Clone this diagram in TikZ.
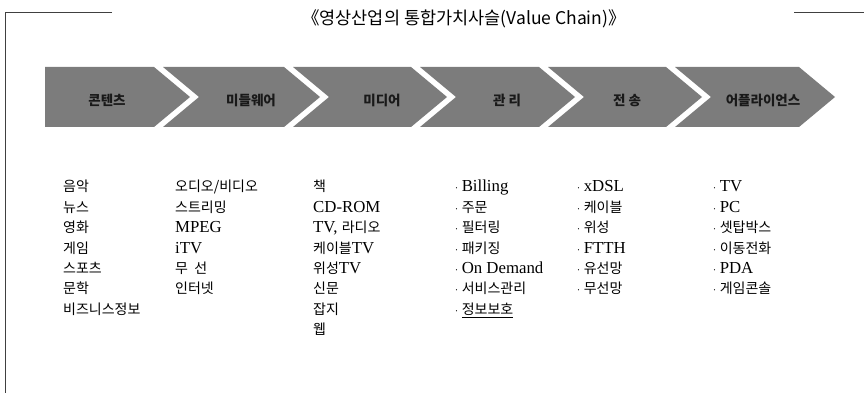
\documentclass[tikz,border=0pt]{standalone}
\usepackage{fontspec}
\setmainfont{Liberation Serif}[Scale=1.2]
\newfontfamily\kr{Noto Sans CJK KR}
\newcommand\K[1]{{\kr #1}}
\newcommand\dt{{\kr\fontsize{9}{9}\selectfont ·}\hspace{2.5pt}}
\definecolor{chev}{HTML}{7C7C7C}
\begin{document}
\begin{tikzpicture}[x=1pt,y=-1pt,
  chevshape/.style={fill=chev,draw=none},
  chevlabel/.style={font=\kr\bfseries\fontsize{13.5}{13.5}\selectfont,text=black!90,inner sep=1pt},
  listitem/.style={anchor=base west,inner sep=0pt,font=\fontsize{14}{14}\selectfont},
  frameline/.style={line width=1pt,black!75}]
\useasboundingbox (0,0) rectangle (864,393);
% frame
\draw[frameline] (112,13) -- (5,13) -- (5,393);
\draw[frameline] (794,13) -- (864,13);
% title
\node[font=\kr\fontsize{17.5}{17.5}\selectfont,inner sep=0pt] (title) at (464,19) {《영상산업의 통합가치사슬(Value Chain)》};
% chevrons
\def\d{36}\def\g{9}\def\yt{67}\def\ym{97}\def\yb{127}
\fill[chevshape] (45,\yt) -- (190-\d,\yt) -- (190,\ym) -- (190-\d,\yb) -- (45,\yb) -- cycle;
\foreach \p/\t in {190/320, 320/447, 447/575, 575/702, 702/835}{
  \fill[chevshape] (\p-\d+\g,\yt) -- (\t-\d,\yt) -- (\t,\ym) -- (\t-\d,\yb) -- (\p-\d+\g,\yb) -- (\p+\g,\ym) -- cycle;
}
\node[chevlabel] (h1) at (107,100) {콘텐츠};
\node[chevlabel] (h2) at (251,100) {미들웨어};
\node[chevlabel] (h3) at (382,100) {미디어};
\node[chevlabel] (h4) at (507,100) {관 리};
\node[chevlabel] (h5) at (627,100) {전 송};
\node[chevlabel] (h6) at (763,100) {어플라이언스};
% columns
\def\yo{171.5}\def\dy{20.4}
\foreach \s [count=\k] in {\K{음악},\K{뉴스},\K{영화},\K{게임},\K{스포츠},\K{문학},\K{비즈니스정보}}
  \node[listitem] (a\k) at (63,\yo+\dy*\k) {\s};
\foreach \s [count=\k] in {\K{오디오/비디오},\K{스트리밍},MPEG,iTV,\K{무\ \ 선},\K{인터넷}}
  \node[listitem] (b\k) at (175,\yo+\dy*\k) {\s};
\foreach \s [count=\k] in {\K{책},CD-ROM,{TV, \K{라디오}},\K{케이블}TV,\K{위성}TV,\K{신문},\K{잡지},\K{웹}}
  \node[listitem] (c\k) at (313,\yo+\dy*\k) {\s};
\foreach \s [count=\k] in {Billing,\K{주문},\K{필터링},\K{패키징},On Demand,\K{서비스관리},\underline{\K{정보보호}}}
  \node[listitem] (d\k) at (454,\yo+\dy*\k) {\dt\s};
\foreach \s [count=\k] in {xDSL,\K{케이블},\K{위성},FTTH,\K{유선망},\K{무선망}}
  \node[listitem] (e\k) at (576,\yo+\dy*\k) {\dt\s};
\foreach \s [count=\k] in {TV,PC,\K{셋탑박스},\K{이동전화},PDA,\K{게임콘솔}}
  \node[listitem] (f\k) at (712,\yo+\dy*\k) {\dt\s};
\end{tikzpicture}
\end{document}
